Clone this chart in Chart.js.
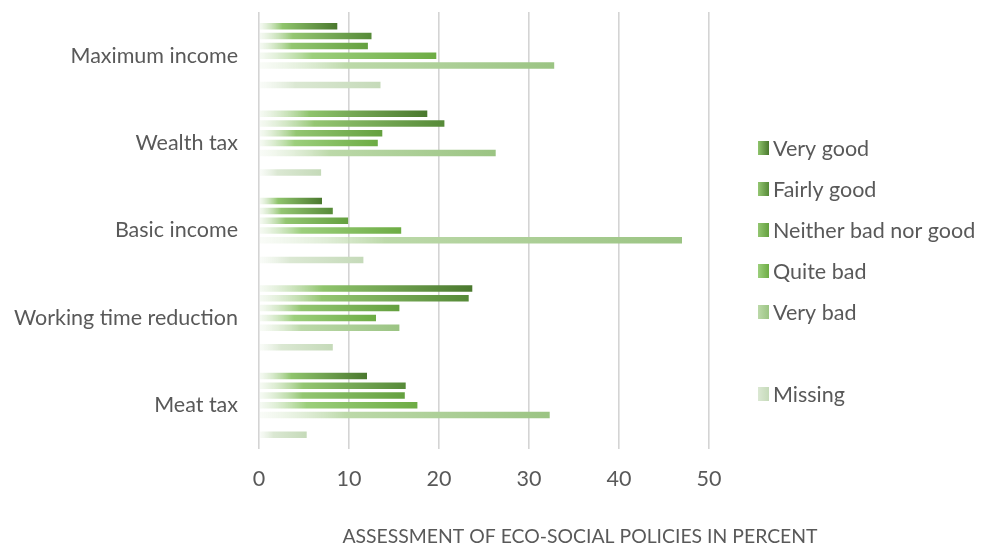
<!DOCTYPE html>
<html>
<head>
<meta charset="utf-8">
<script src="https://cdn.jsdelivr.net/npm/chart.js@4/dist/chart.umd.min.js"></script>
<style>
  body { margin: 0; background: #fff; }
  #wrap { width: 987px; height: 545px; }
</style>
</head>
<body>
<div id="wrap"><canvas id="chart" width="987" height="545"></canvas></div>
<script>
var categories = ['Maximum income', 'Wealth tax', 'Basic income', 'Working time reduction', 'Meat tax'];
var seriesNames = ['Very good', 'Fairly good', 'Neither bad nor good', 'Quite bad', 'Very bad', '', 'Missing'];

var veryGood    = [8.7, 18.7, 7.0, 23.7, 12.0];
var fairlyGood  = [12.5, 20.6, 8.2, 23.3, 16.3];
var neither     = [12.1, 13.7, 9.9, 15.6, 16.2];
var quiteBad    = [19.7, 13.2, 15.8, 13.0, 17.6];
var veryBad     = [32.8, 26.3, 47.0, 15.6, 32.3];
var blankSeries = [null, null, null, null, null];
var missing     = [13.5, 6.9, 11.6, 8.2, 5.3];

var tickValues = [0, 10, 20, 30, 40, 50];
var axisTitle = 'ASSESSMENT OF ECO-SOCIAL POLICIES IN PERCENT';

// gradient colours: [start, middle, end]
var shades = [
    ['rgba(200,225,185,0.15)', '#8fc46c', '#4a782e'],
    ['rgba(200,225,185,0.15)', '#94c672', '#568a38'],
    ['rgba(200,225,185,0.15)', '#93c671', '#64a03f'],
    ['rgba(200,225,185,0.15)', '#9ccf7c', '#6dac44'],
    ['rgba(220,235,210,0.15)', '#bcd9a9', '#9bc483'],
    ['#ffffff', '#ffffff', '#ffffff'],
    ['rgba(230,240,225,0.2)', '#dbe8d3', '#c5dab9']
];

var textColor = '#595959';
var fontName = 'Lato, "Open Sans", sans-serif';

function barFill(i) {
    return function(context) {
        var chart = context.chart;
        var s = shades[i];
        if (!chart.chartArea || context.type !== 'data' || !context.parsed) return s[2];
        var xs = chart.scales.x;
        if (!xs) return s[2];
        var x0 = xs.getPixelForValue(0);
        var x1 = xs.getPixelForValue(context.parsed.x);
        if (!isFinite(x0) || !isFinite(x1) || x1 - x0 < 2) return s[2];
        var g = chart.ctx.createLinearGradient(x0, 0, x1, 0);
        g.addColorStop(0, s[0]);
        g.addColorStop(0.3, s[1]);
        g.addColorStop(1, s[2]);
        return g;
    };
}

var allSeries = [veryGood, fairlyGood, neither, quiteBad, veryBad, blankSeries, missing];
var datasets = [];
for (var i = 0; i < allSeries.length; i++) {
    datasets.push({
        label: seriesNames[i],
        data: allSeries[i],
        backgroundColor: barFill(i),
        borderWidth: 0,
        categoryPercentage: 0.785,
        barPercentage: 0.66
    });
}

// legend + axis title drawn by hand so they sit where the original has them
var extras = {
    id: 'extras',
    afterDraw: function(chart) {
        var ctx = chart.ctx;
        ctx.save();
        ctx.font = '21.5px ' + fontName;
        ctx.fillStyle = textColor;
        ctx.textBaseline = 'middle';
        ctx.textAlign = 'left';
        for (var i = 0; i < seriesNames.length; i++) {
            var y = 148 + i * 41;
            if (seriesNames[i] === '') continue;
            var s = shades[i];
            var g = ctx.createLinearGradient(758, 0, 769, 0);
            g.addColorStop(0, s[1]);
            g.addColorStop(1, s[2]);
            ctx.fillStyle = g;
            ctx.fillRect(758, y - 7, 11, 14);
            ctx.fillStyle = textColor;
            ctx.fillText(seriesNames[i], 773, y + 1);
        }
        ctx.font = '19.4px ' + fontName;
        ctx.textAlign = 'center';
        ctx.fillText(axisTitle, 580, 537);
        ctx.restore();
    }
};

var ctx = document.getElementById('chart').getContext('2d');
var chart = new Chart(ctx, {
    type: 'bar',
    data: {
        labels: categories,
        datasets: datasets
    },
    options: {
        indexAxis: 'y',
        responsive: false,
        animation: false,
        layout: { padding: { top: 12, right: 278, left: 0, bottom: 0 } },
        plugins: {
            legend: { display: false },
            tooltip: { enabled: false }
        },
        scales: {
            x: {
                min: 0,
                max: 50,
                afterBuildTicks: function(scale) {
                    scale.ticks = tickValues.map(function(v) { return { value: v }; });
                },
                afterFit: function(scale) { scale.height = 96; },
                grid: { color: '#d4d4d4', lineWidth: 1.6, drawTicks: false },
                border: { display: false },
                ticks: { color: textColor, padding: 17, font: { family: fontName, size: 21.5 } }
            },
            y: {
                afterFit: function(scale) {
                    scale.width = 259;
                    scale.paddingTop = 0;
                    scale.paddingBottom = 0;
                },
                grid: { display: false, drawTicks: false },
                border: { display: false },
                ticks: { color: textColor, padding: 21, font: { family: fontName, size: 21.5 } }
            }
        }
    },
    plugins: [extras]
});
</script>
</body>
</html>
